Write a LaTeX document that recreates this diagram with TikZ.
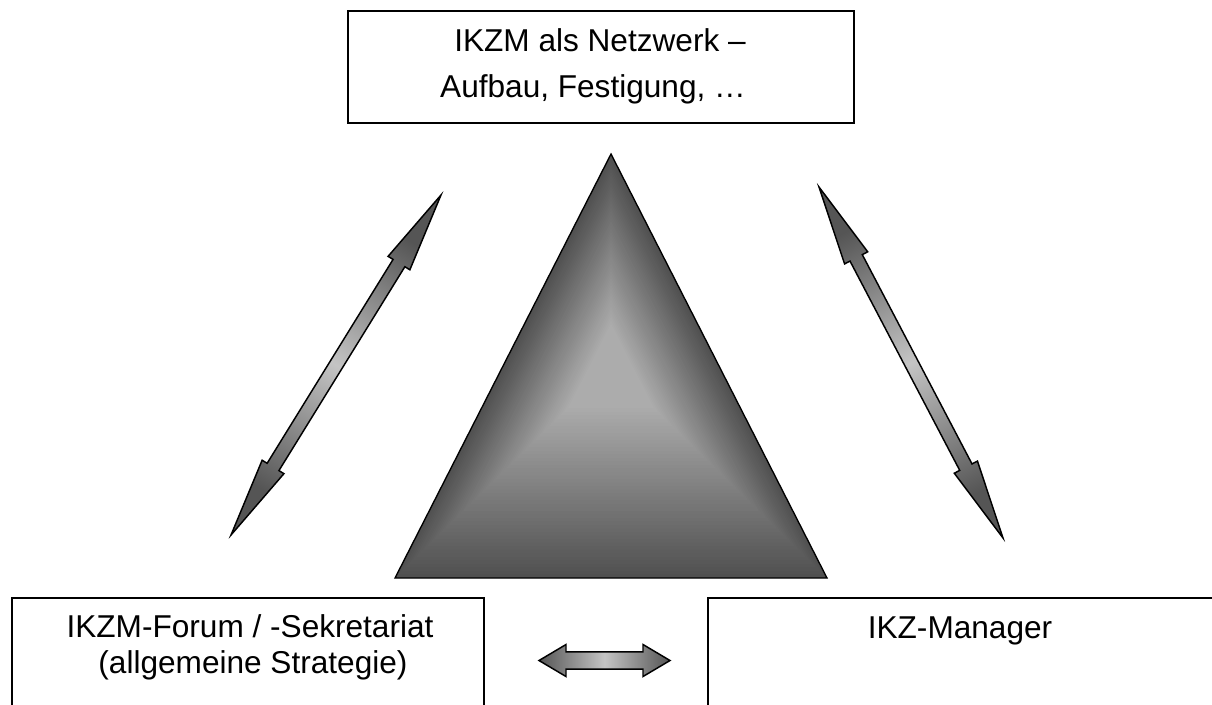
\documentclass[tikz,border=0pt]{standalone}
\usepackage{fontspec}
\setmainfont{Liberation Sans}
\usetikzlibrary{calc}
\definecolor{tridark}{HTML}{505050}
\definecolor{trilight}{HTML}{ACACAC}
\definecolor{arrdark}{HTML}{555555}
\definecolor{arrlight}{HTML}{C4C4C4}
\tikzset{
  box/.style={draw=black, line width=1.5pt, fill=white, anchor=north west, inner sep=0pt},
  lbl/.style={anchor=base, inner sep=0pt, font=\fontsize{23.7pt}{28pt}\selectfont},
  arrowshade/.style={draw=black, line width=1.1pt, left color=arrdark, right color=arrdark, middle color=arrlight},
}
\newcommand{\dblarrow}[6]{%
  \coordinate (hp) at ($(#1)!#3!(#2)$);
  \coordinate (hq) at ($(#2)!#3!(#1)$);
  \shade[arrowshade, shading angle=#6]
    (#1) -- ($(hp)!#4!90:(#2)$) -- ($(hp)!#5!90:(#2)$) -- ($(hq)!#5!-90:(#1)$)
    -- ($(hq)!#4!-90:(#1)$) -- (#2) -- ($(hq)!#4!90:(#1)$) -- ($(hq)!#5!90:(#1)$)
    -- ($(hp)!#5!-90:(#2)$) -- ($(hp)!#4!-90:(#2)$) -- cycle;
}
\begin{document}
\begin{tikzpicture}[x=0.75pt, y=-0.75pt]
\useasboundingbox (0,0) rectangle (1212,704);
\clip (0,0) rectangle (1212,704);
\fill[white] (0,0) rectangle (1212,704);

% boxes
\node[box, minimum width=379.5pt, minimum height=84pt] (top) at (347,10) {};
\node[box, minimum width=354pt, minimum height=100pt] (forum) at (11,597) {};
\node[box, minimum width=400pt, minimum height=100pt] (mgr) at (707,597) {};

\node[lbl] (t1) at (600,51) {IKZM als Netzwerk –};
\node[lbl] (t2) at (593,97) {Aufbau, Festigung, …};
\node[lbl] (f1) at (250,637) {IKZM-Forum / -Sekretariat};
\node[lbl] (f2) at (253,673) {(allgemeine Strategie)};
\node[lbl] (m1) at (960,638) {IKZ-Manager};

% triangle
\coordinate (tA) at (611,154);
\coordinate (tB) at (395,578);
\coordinate (tC) at (827,578);
\coordinate (tc) at (611,366);
\foreach \i in {0,...,60}{
  \pgfmathsetmacro\s{1-\i/60}
  \pgfmathsetmacro\p{min(100,\i*100/60/0.8)}
  \fill[trilight!\p!tridark] ($(tc)!\s!(tA)$) -- ($(tc)!\s!(tB)$) -- ($(tc)!\s!(tC)$) -- cycle;
}
\draw[line width=1pt, line join=miter] (tA) -- (tB) -- (tC) -- cycle;

% arrows
\coordinate (la1) at (441,195);
\coordinate (la2) at (231,535);
\coordinate (ra1) at (819,187);
\coordinate (ra2) at (1003,538);
\coordinate (ha1) at (539,660.5);
\coordinate (ha2) at (670,660.5);
\dblarrow{la1}{la2}{60pt}{9.6pt}{5.2pt}{-31.7}
\dblarrow{ra1}{ra2}{60pt}{9.8pt}{5.2pt}{-152.3}
\dblarrow{ha1}{ha2}{20.25pt}{12pt}{6.4pt}{90}
\end{tikzpicture}
\end{document}
